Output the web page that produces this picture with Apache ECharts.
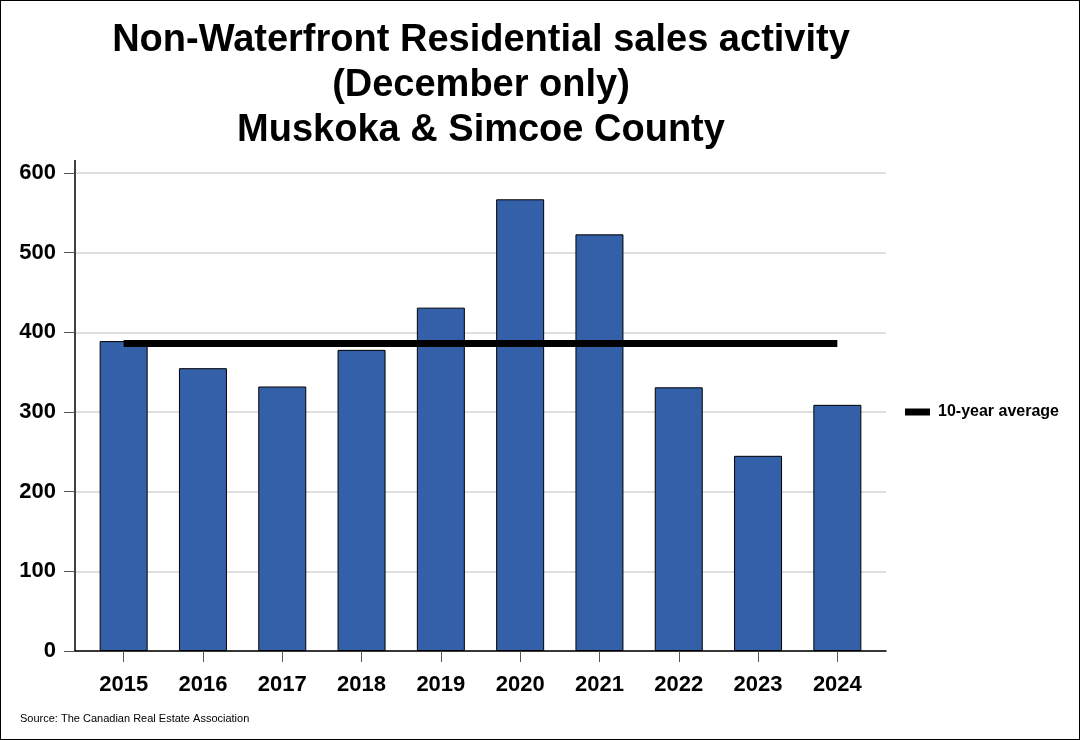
<!DOCTYPE html>
<html><head><meta charset="utf-8">
<script src="https://cdn.jsdelivr.net/npm/echarts@6/dist/echarts.min.js"></script>
<style>
html,body{margin:0;padding:0;background:#fff;}
#c{width:1078px;height:738px;border:1px solid #000;}
</style></head>
<body><div id="c"></div>
<script>
const years = ['2015','2016','2017','2018','2019','2020','2021','2022','2023','2024'];
const sales = [389, 355, 332, 378, 431, 567, 523, 331, 245, 309];
const tenYearAverage = [386, 386, 386, 386, 386, 386, 386, 386, 386, 386];
const yTicks = [0, 100, 200, 300, 400, 500, 600];

const chart = echarts.init(document.getElementById('c'));
const font = 'Liberation Sans, Arial, sans-serif';
chart.setOption({
  animation: false,
  backgroundColor: '#fff',
  textStyle: {fontFamily: font},
  title: {
    text: 'Non-Waterfront Residential sales activity\n(December only)\nMuskoka & Simcoe County',
    left: 475, top: 12, textAlign: 'center',
    textStyle: {fontFamily: font, fontSize: 38, fontWeight: 'bold', color: '#000', lineHeight: 45}
  },
  graphic: [
    {type: 'text', left: 19, top: 712,
     style: {text: 'Source: The Canadian Real Estate Association', font: '11px ' + font, fill: '#000'}},
    {type: 'line', shape: {x1: 74, y1: 159, x2: 74, y2: 173}, style: {stroke: '#000', lineWidth: 1.5}}
  ],
  legend: {
    data: ['10-year average'], left: 899, top: 398, icon: 'rect', itemWidth: 25, itemHeight: 7, itemGap: 8,
    textStyle: {fontFamily: font, fontSize: 16, fontWeight: 'bold', color: '#000', padding: [0, 0, 0, 3]}
  },
  grid: [
    {left: 74, right: 193, top: 172, bottom: 88},
    {left: 83, right: 202, top: 172, bottom: 88}
  ],
  xAxis: [
    {gridIndex: 0, type: 'value', min: 0, max: 1, show: true, axisLine: {show: true, onZero: false, lineStyle: {color: '#000', width: 1.5}},
     axisTick: {show: false}, axisLabel: {show: false}, splitLine: {show: false}},
    {gridIndex: 1, type: 'category', data: years, boundaryGap: true,
     axisLine: {show: false}, axisTick: {show: true, alignWithLabel: true, length: 11, lineStyle: {color: '#555'}},
     axisLabel: {fontFamily: font, fontSize: 22, fontWeight: 'bold', color: '#000', margin: 23}}
  ],
  yAxis: [
    {gridIndex: 0, type: 'value', min: yTicks[0], max: yTicks[yTicks.length - 1], interval: 100,
     axisLine: {show: true, lineStyle: {color: '#000', width: 1.5}},
     axisTick: {show: true, length: 11, lineStyle: {color: '#555'}},
     axisLabel: {fontFamily: font, fontSize: 22, fontWeight: 'bold', color: '#000', margin: 19},
     splitLine: {show: true, lineStyle: {color: '#d4d4d4', width: 1.5}}},
    {gridIndex: 1, type: 'value', min: yTicks[0], max: yTicks[yTicks.length - 1], interval: 100, show: false,
     splitLine: {show: false}}
  ],
  series: [
    {name: 'Sales', type: 'bar', xAxisIndex: 1, yAxisIndex: 1, data: sales, barWidth: 48,
     itemStyle: {color: '#345fa9', borderColor: '#000', borderWidth: 1}},
    {name: '10-year average', type: 'line', xAxisIndex: 1, yAxisIndex: 1, data: tenYearAverage,
     symbol: 'none', lineStyle: {color: '#000', width: 7}, itemStyle: {color: '#000'}, z: 5}
  ]
});
</script></body></html>
